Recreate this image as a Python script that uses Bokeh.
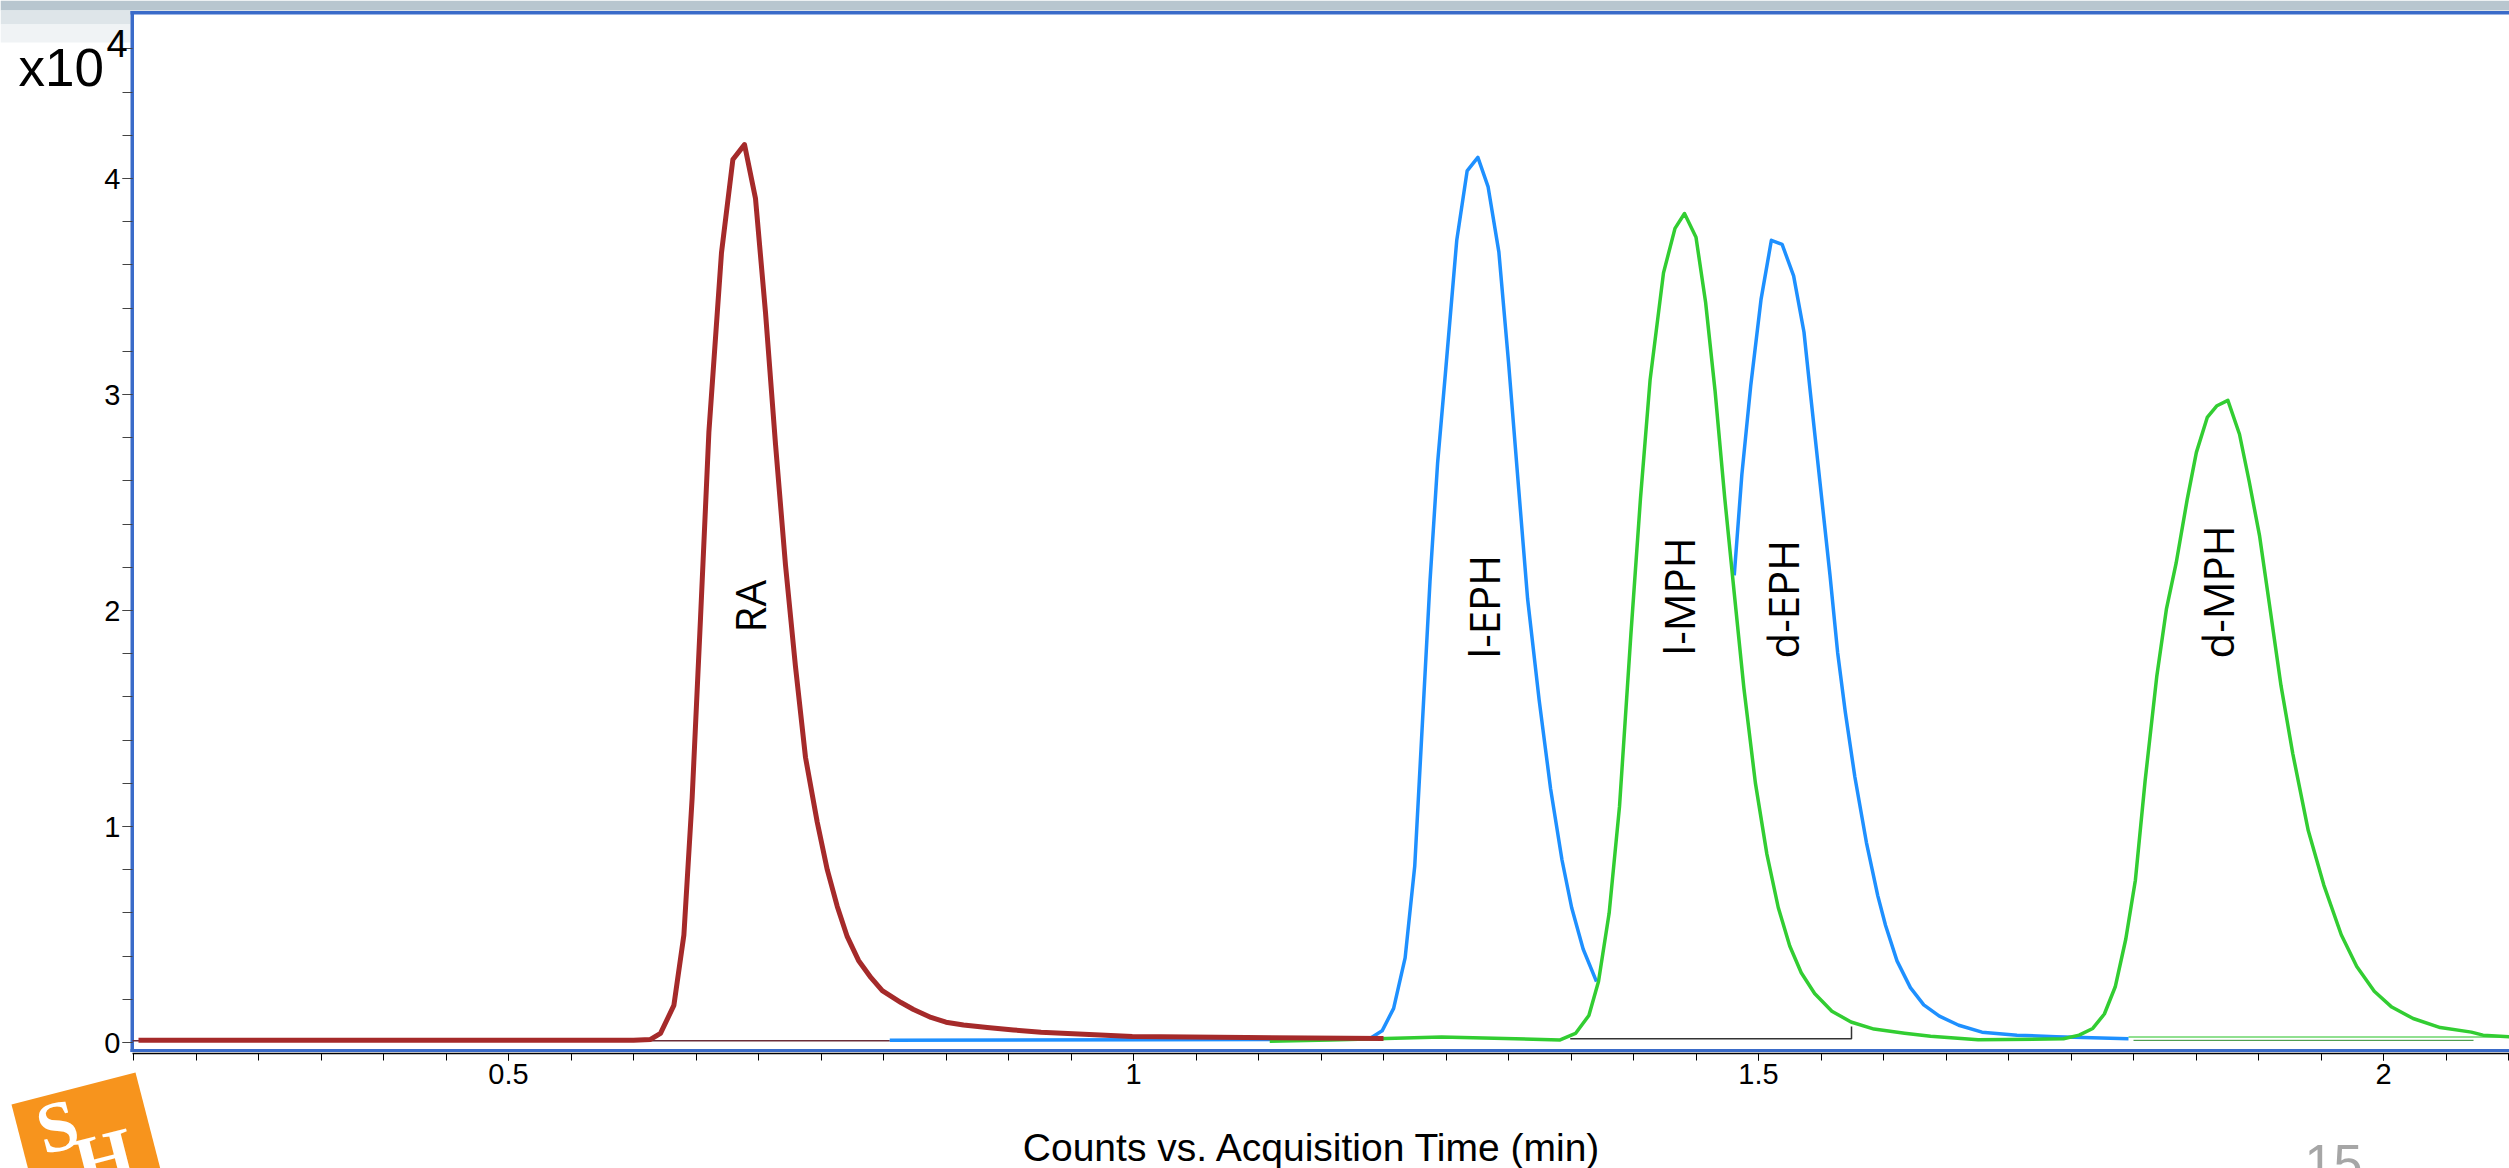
import numpy as np
from bokeh.plotting import figure
from bokeh.models import (Range1d, FixedTicker, BoxAnnotation, PolyAnnotation, Label,
                          ColumnDataSource)
from bokeh.core.properties import value
from bokeh.embed import file_html
from bokeh.resources import INLINE

# ---------------- data (counts in x10^4) ----------------
ra_time = [0.204, 0.600, 0.6136, 0.6216, 0.6323, 0.6403, 0.6469, 0.6536, 0.6603, 0.6704,
           0.6795, 0.6888, 0.6976, 0.7056, 0.7136, 0.7216, 0.7296, 0.7376, 0.7470, 0.7550,
           0.7630, 0.7710, 0.7800, 0.7900, 0.7990, 0.8140, 0.8240, 0.8380, 0.8500, 0.8640,
           0.8830, 0.9040, 0.9260, 0.9990, 1.0900, 1.2000]
ra_counts = [0.010, 0.010, 0.014, 0.042, 0.172, 0.497, 1.130, 1.963, 2.825, 3.657,
             4.088, 4.157, 3.907, 3.380, 2.770, 2.210, 1.740, 1.320, 1.020, 0.800,
             0.630, 0.490, 0.380, 0.300, 0.240, 0.185, 0.153, 0.116, 0.094, 0.081,
             0.069, 0.058, 0.047, 0.028, 0.023, 0.018]

eph_time = [0.805, 1.1576, 1.1898, 1.1989, 1.2081, 1.2173, 1.2250, 1.2311, 1.2372, 1.2433,
            1.2495, 1.2586, 1.2669, 1.2755, 1.2837, 1.2923, 1.3000, 1.3076, 1.3153, 1.3245,
            1.3337, 1.3428, 1.3505, 1.3597, 1.3704, np.nan,
            1.4806, 1.4867, 1.4938, 1.5020, 1.5103, 1.5189, 1.5281, 1.5364, 1.5419, 1.5480,
            1.5572, 1.5633, 1.5694, 1.5771, 1.5863, 1.5954, 1.6016, 1.6108, 1.6215, 1.6322,
            1.6447, 1.6602, 1.6788, 1.7068, 1.7380, 1.7960]
eph_counts = [0.010, 0.015, 0.021, 0.054, 0.158, 0.392, 0.817, 1.476, 2.135, 2.684,
              3.096, 3.714, 4.035, 4.098, 3.961, 3.659, 3.151, 2.602, 2.053, 1.586,
              1.174, 0.845, 0.625, 0.433, 0.282, np.nan,
              2.163, 2.630, 3.041, 3.439, 3.714, 3.695, 3.549, 3.288, 2.986, 2.657,
              2.163, 1.806, 1.531, 1.229, 0.927, 0.680, 0.543, 0.378, 0.254, 0.174,
              0.122, 0.080, 0.048, 0.034, 0.027, 0.017]

mph_time = [1.1090, 1.1576, 1.2464, 1.3413, 1.3536, 1.3643, 1.3720, 1.3805, 1.3888, 1.3979,
            1.4056, 1.4133, 1.4240, 1.4332, 1.4408, 1.4500, 1.4577, 1.4653, 1.4730, 1.4806,
            1.4883, 1.4975, 1.5067, 1.5158, 1.5250, 1.5342, 1.5449, 1.5587, 1.5740, 1.5924,
            1.6169, 1.6377, 1.6757, 1.7440, 1.7565, 1.7674, 1.7767, 1.7854, 1.7938, 1.8015,
            1.8093, 1.8186, 1.8264, 1.8341, 1.8429, 1.8503, 1.8590, 1.8668, 1.8755, 1.8848,
            1.8926, 1.9009, 1.9087, 1.9180, 1.9274, 1.9398, 1.9522, 1.9662, 1.9786, 1.9926,
            2.0066, 2.0237, 2.0454, 2.0703, 2.0796, 2.1008]
mph_counts = [0.006, 0.012, 0.026, 0.012, 0.042, 0.125, 0.282, 0.598, 1.092, 1.888,
              2.520, 3.069, 3.563, 3.769, 3.838, 3.728, 3.426, 3.014, 2.520, 2.080,
              1.641, 1.202, 0.872, 0.625, 0.447, 0.323, 0.227, 0.145, 0.095, 0.062,
              0.043, 0.029, 0.013, 0.017, 0.034, 0.065, 0.132, 0.258, 0.478, 0.751,
              1.212, 1.694, 2.009, 2.219, 2.512, 2.732, 2.894, 2.948, 2.973, 2.816,
              2.596, 2.344, 2.030, 1.652, 1.338, 0.981, 0.730, 0.499, 0.352, 0.237,
              0.164, 0.111, 0.069, 0.048, 0.034, 0.027]

# integration baselines
ra_base_time = [0.1992, 0.805]
ra_base_counts = [0.008, 0.008]
lmph_base_time = [1.3494, 1.5744, 1.5744]
lmph_base_counts = [0.017, 0.017, 0.074]
dmph_base1_time = [1.796, 2.1008]
dmph_base1_counts = [0.026, 0.026]
dmph_base2_time = [1.800, 2.072]
dmph_base2_counts = [0.010, 0.010]

peak_names = ["RA", "l-EPH", "l-MPH", "d-EPH", "d-MPH"]
peak_label_time = [0.693, 1.280, 1.4356, 1.5189, 1.8668]
peak_label_level = [1.898, 1.778, 1.792, 1.778, 1.778]

x_major = [0.5, 1.0, 1.5, 2.0]
x_major_labels = ["0.5", "1", "1.5", "2"]
x_minor = [round(0.20 + 0.05 * i, 2) for i in range(39)]
y_major = [0, 1, 2, 3, 4]
y_major_labels = ["0", "1", "2", "3", "4"]
y_minor = [round(0.2 * i, 1) for i in range(24)]

x_title = "Counts vs. Acquisition Time (min)"
y_scale_text = "x10"
y_scale_exp = "4"
page_number = "15"

# ---------------- figure ----------------
# the frame covers the whole canvas; axes are pinned with fixed_location
W, H = 2509, 1168
PX_PER_MIN = 1250.0      # horizontal pixels per minute
PX_PER_UNIT = 216.0      # vertical pixels per 10^4 counts
X_AT_508 = 0.5           # time at canvas x = 508
ZERO_Y_PX = 1042         # canvas y of zero counts


def px_x(px):
    return round(X_AT_508 + (px - 508) / PX_PER_MIN, 6)


def px_y(py):
    return round((ZERO_Y_PX - py) / PX_PER_UNIT, 6)


X0, X1 = px_x(0), px_x(W)
Y0, Y1 = px_y(H), px_y(0)
PLOT_L, PLOT_B = 132, 1053

p = figure(width=W, height=H, output_backend="svg", toolbar_location=None,
           x_range=Range1d(X0, X1), y_range=Range1d(Y0, Y1),
           min_border=0, min_border_left=0, min_border_right=0, min_border_top=0,
           min_border_bottom=0,
           background_fill_color="white", border_fill_color="white",
           outline_line_color=None)
p.title.visible = False
p.grid.visible = False
BLUE = "#3A6BC9"

xa = p.xaxis[0]
xa.fixed_location = px_y(PLOT_B)
xa.bounds = (px_x(PLOT_L), X1)
xa.ticker = FixedTicker(ticks=x_major, minor_ticks=x_minor)
xa.major_label_overrides = {t: l for t, l in zip(x_major, x_major_labels)}
xa.axis_line_color = "black"
xa.axis_line_width = 1.5
xa.major_tick_in = 0
xa.major_tick_out = 7
xa.minor_tick_in = 0
xa.minor_tick_out = 7
xa.major_tick_line_color = "black"
xa.minor_tick_line_color = "black"
xa.major_label_text_font = "Liberation Sans"
xa.major_label_text_font_size = "29px"
xa.major_label_text_color = "black"
xa.major_label_standoff = 3

ya = p.yaxis[0]
ya.fixed_location = px_x(PLOT_L)
ya.bounds = (px_y(PLOT_B), px_y(12))
ya.ticker = FixedTicker(ticks=y_major, minor_ticks=y_minor)
ya.major_label_overrides = {t: l for t, l in zip(y_major, y_major_labels)}
ya.axis_line_color = None
ya.major_tick_in = 0
ya.major_tick_out = 10
ya.minor_tick_in = 0
ya.minor_tick_out = 10
ya.major_tick_line_color = "#444444"
ya.minor_tick_line_color = "#444444"
ya.major_label_text_font = "Liberation Sans"
ya.major_label_text_font_size = "29px"
ya.major_label_text_color = "black"
ya.major_label_standoff = 2


def cbox(l, r, t, b, color):
    return BoxAnnotation(left=l, right=r, top=t, bottom=b,
                         left_units="canvas", right_units="canvas",
                         top_units="canvas", bottom_units="canvas",
                         fill_color=color, fill_alpha=1.0, line_color=None, level="underlay")


# slide decorations: banner strip and faded corner
p.add_layout(cbox(0, W, 0, 10, "#B8C6CF"))
p.add_layout(cbox(0, 130, 10, 24, "#DEE5E9"))
p.add_layout(cbox(0, 130, 24, 42, "#F0F3F5"))

# baselines
p.line(ra_base_time, ra_base_counts, color="#6B2D3A", line_width=1.5)
p.line(lmph_base_time, lmph_base_counts, color="#333333", line_width=1.5)
p.line(dmph_base1_time, dmph_base1_counts, color="#90E090", line_width=2)
p.line(dmph_base2_time, dmph_base2_counts, color="#2E8B2E", line_width=1)

# traces
p.line(x="t", y="c", source=ColumnDataSource(dict(t=np.array(eph_time), c=np.array(eph_counts))),
       color="#1E90FF", line_width=3.5, line_join="round")
p.line(mph_time, mph_counts, color="#32CD32", line_width=3.5, line_join="round")
p.line(ra_time, ra_counts, color="#A52A2A", line_width=5, line_join="round")

p.text(x=peak_label_time, y=peak_label_level, text=peak_names, angle=np.pi / 2,
       text_align="left", text_baseline="middle", text_font=value("Open Sans"),
       text_font_size="42px", text_color="black")

# blue plot frame (left, top, bottom edges; right edge is off-screen)
p.add_layout(cbox(130, W, 10.5, 14, BLUE))
p.add_layout(cbox(130, 133.5, 10.5, 1051.5, BLUE))
p.add_layout(cbox(130, W, 1048.5, 1051.5, BLUE))

# logo
p.add_layout(PolyAnnotation(xs=[px_x(v) for v in (11, 135, 167, 43)],
                            ys=[px_y(v) for v in (1104, 1072, 1196, 1228)],
                            fill_color="#F7941D", fill_alpha=1.0, line_color=None))


def plabel(px, py, text, font, size, color, align="left", angle=0.0, style="normal"):
    return Label(x=px_x(px), y=px_y(py), text=text, text_font=font,
                 text_font_size=size, text_color=color, text_align=align,
                 text_baseline="middle", angle=angle, text_font_style=style)


p.add_layout(plabel(57, 1126, "S", "Liberation Serif", "72px", "white", "center", 0.25, "bold"))
p.add_layout(plabel(104, 1158, "H", "Liberation Serif", "76px", "white", "center", 0.25, "bold"))
p.add_layout(plabel(18, 67, y_scale_text, "Liberation Sans", "53px", "black"))
p.add_layout(plabel(106, 43, y_scale_exp, "Liberation Sans", "38px", "black"))
p.add_layout(plabel(1312, 1147, x_title, "Liberation Sans", "39px", "black", "center"))
p.add_layout(plabel(2304, 1162, page_number, "Liberation Sans", "52px", "#A6A6A6"))

open("out.html", "w").write(file_html(p, INLINE))
